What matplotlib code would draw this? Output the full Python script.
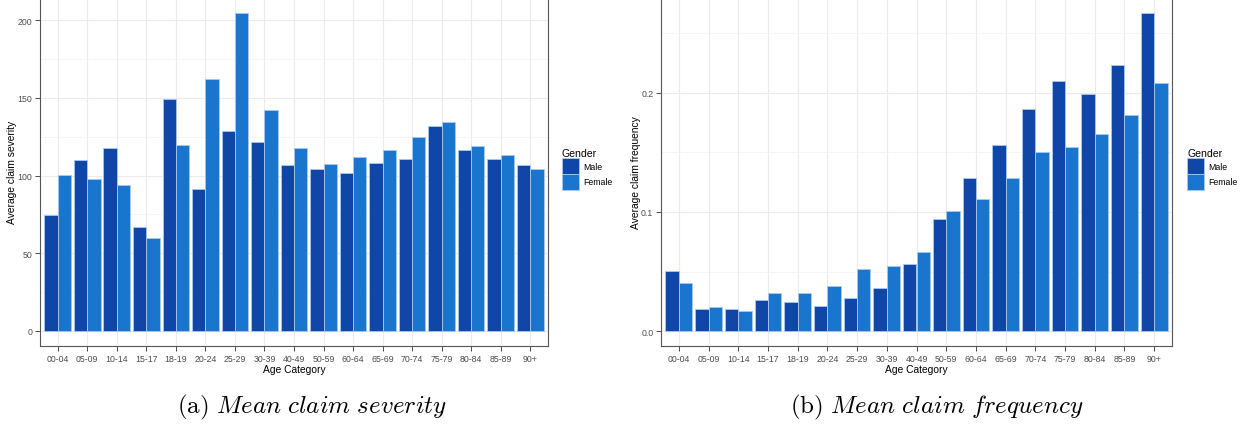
import matplotlib
matplotlib.use("Agg")
import matplotlib.pyplot as plt
import matplotlib.patches as mpatches
import numpy as np

# age bands shared by both panels
age_cats = ["00-04", "05-09", "10-14", "15-17", "18-19", "20-24", "25-29", "30-39",
            "40-49", "50-59", "60-64", "65-69", "70-74", "75-79", "80-84", "85-89", "90+"]

# (a) mean claim severity
sev_male = [74.4, 110.2, 117.9, 67.1, 149.0, 91.3, 128.8, 121.7,
            106.5, 104.2, 101.8, 107.8, 110.6, 131.8, 116.6, 110.4, 106.6]
sev_female = [100.5, 97.7, 94.1, 59.8, 119.4, 161.9, 204.7, 141.9,
              118.0, 107.4, 111.7, 116.6, 125.0, 134.6, 119.0, 113.4, 104.0]

# (b) mean claim frequency
freq_male = [0.0503, 0.0189, 0.0184, 0.0262, 0.0245, 0.0209, 0.0276, 0.0365,
             0.0561, 0.0940, 0.1281, 0.1563, 0.1859, 0.2099, 0.1990, 0.2230, 0.2668]
freq_female = [0.0405, 0.0204, 0.0167, 0.0321, 0.0318, 0.0377, 0.0522, 0.0544,
               0.0664, 0.1006, 0.1108, 0.1281, 0.1502, 0.1541, 0.1652, 0.1812, 0.2080]

genders = ["Male", "Female"]
colors = ["#1146A9", "#1A75CE"]
edge = "#A9C9EE"

plt.rcParams["font.family"] = ["Liberation Sans", "DejaVu Sans"]
plt.rcParams["mathtext.fontset"] = "cm"

W, H = 1248, 427
fig = plt.figure(figsize=(W / 100, H / 100), dpi=100)


def panel(rect, male, female, ylim, major, minor, ylabel, fmt, legend_xy):
    ax = fig.add_axes(rect)
    x = np.arange(1, len(age_cats) + 1)
    w = 0.45
    ax.bar(x - w / 2, male, width=w, color=colors[0], edgecolor=edge, linewidth=0.6, zorder=3)
    ax.bar(x + w / 2, female, width=w, color=colors[1], edgecolor=edge, linewidth=0.6, zorder=3)
    ax.set_xlim(0.4, len(age_cats) + 0.6)
    ax.set_ylim(*ylim)
    ax.set_xticks(x)
    ax.set_xticklabels(age_cats)
    ax.set_yticks(major)
    ax.set_yticklabels([fmt(v) for v in major])
    ax.set_yticks(minor, minor=True)
    ax.tick_params(which="minor", length=0)
    ax.tick_params(which="major", length=3.5, width=0.6, color="#333333",
                   labelsize=6.3, labelcolor="#4D4D4D", pad=2)
    ax.grid(which="major", color="#EBEBEB", linewidth=0.8, zorder=0)
    ax.grid(which="minor", axis="y", color="#F2F2F2", linewidth=0.5, zorder=0)
    ax.set_axisbelow(True)
    for s in ax.spines.values():
        s.set_color("#555555")
        s.set_linewidth(0.8)
    ax.set_xlabel("Age Category", fontsize=7.4, labelpad=1)
    ax.set_ylabel(ylabel, fontsize=7.4, labelpad=0.3)

    handles = [mpatches.Patch(facecolor=c, edgecolor=edge, linewidth=0.6, label=g)
               for c, g in zip(colors, genders)]
    fig.legend(handles=handles, title="Gender", loc="upper left",
               bbox_to_anchor=(legend_xy[0] / W, 1 - legend_xy[1] / H),
               frameon=False, fontsize=6.3, title_fontsize=7.6,
               handlelength=1.9, handleheight=2.4, labelspacing=0.0,
               handletextpad=0.55, borderaxespad=0, borderpad=0,
               alignment="left")
    return ax


# axes rects from pixel positions (left, bottom, width, height)
panel([40 / W, 80 / H, 508 / W, 349 / H], sev_male, sev_female,
      (-9.65, 214.8), [0, 50, 100, 150, 200], [25, 75, 125, 175],
      "Average claim severity", lambda v: f"{v:g}", (562, 149))
panel([661 / W, 80 / H, 511 / W, 349 / H], freq_male, freq_female,
      (-0.0123, 0.28), [0.0, 0.1, 0.2], [0.05, 0.15, 0.25],
      "Average claim frequency", lambda v: f"{v:.1f}", (1187, 149))

fig.text(312 / W, 1 - 407 / H, r"$\mathrm{(a)}\ \mathit{Mean\ claim\ severity}$",
         ha="center", va="center", fontsize=18)
fig.text(937 / W, 1 - 407 / H, r"$\mathrm{(b)}\ \mathit{Mean\ claim\ frequency}$",
         ha="center", va="center", fontsize=18)

fig.savefig("out.png", dpi=100)
